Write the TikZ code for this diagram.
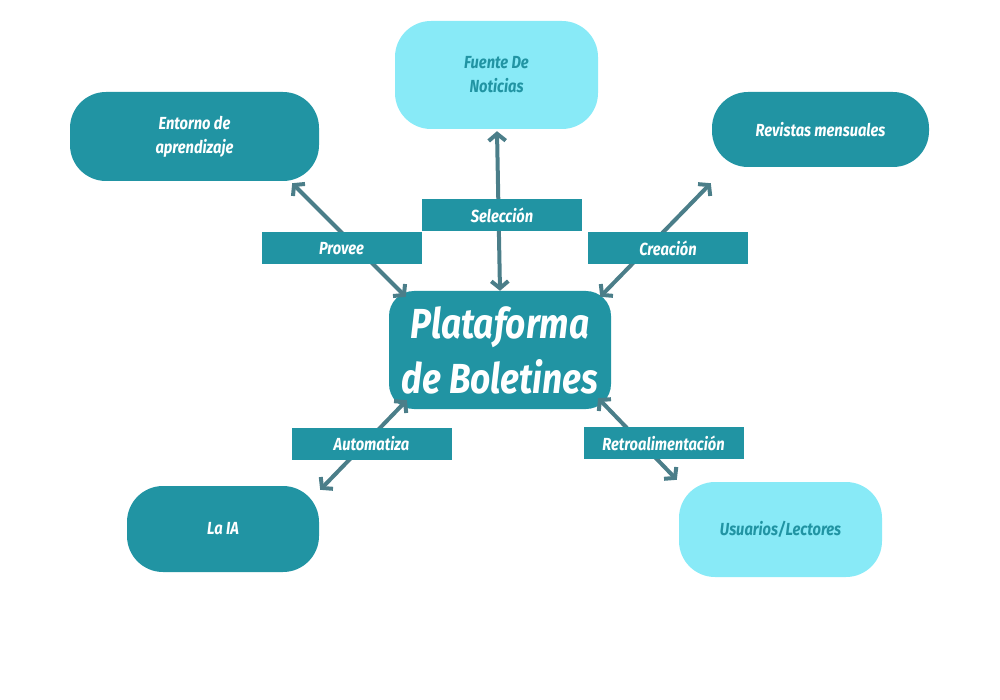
\documentclass[tikz,border=0pt]{standalone}
\usepackage{fontspec}
\setmainfont{Fira Sans}[FakeStretch=0.84]
\usetikzlibrary{arrows.meta,calc}
\definecolor{tealbox}{HTML}{2194A3}
\definecolor{skybox}{HTML}{88EAF7}
\definecolor{linkgray}{HTML}{4B7E89}
\newcommand{\lbl}{\fontsize{17.5}{24}\selectfont\bfseries\itshape}

\begin{document}
\begin{tikzpicture}[x=1pt,y=-1pt,
  dark/.style={rounded corners=36pt,fill=tealbox,text=white,align=center,inner sep=0pt,font=\lbl},
  light/.style={dark,fill=skybox,text=tealbox},
  tag/.style={fill=tealbox,text=white,inner sep=0pt,minimum width=160pt,minimum height=32pt,font=\lbl},
  link/.style={draw=linkgray,line width=4pt,{Straight Barb[length=7pt,width=17pt]}-{Straight Barb[length=7pt,width=17pt]}}]
  \useasboundingbox (0,0) rectangle (1000,700);
  % outer boxes
  \node[dark,minimum width=249pt,minimum height=89pt] (env) at (194.5,136.5) {Entorno de\\aprendizaje};
  \node[light,minimum width=203pt,minimum height=108pt] (news) at (496.5,75) {Fuente De\\Noticias};
  \node[dark,minimum width=217pt,minimum height=75pt] (mag) at (820.5,129.5) {Revistas mensuales};
  \node[dark,minimum width=192pt,minimum height=86pt] (ai) at (223,529) {La IA};
  \node[light,minimum width=203pt,minimum height=95pt] (users) at (780.5,529.5) {Usuarios/Lectores};
  % hub
  \node[dark,rounded corners=25pt,minimum width=222pt,minimum height=118pt,
        font=\fontsize{42}{55}\selectfont\bfseries\itshape] (hub) at (500,350) {Plataforma\\de Boletines};
  % links
  \draw[link] ($(hub.north west)+(17,6)$) -- ($(env.south east)+(-27,2)$);
  \draw[link] (hub.north) -- ($(news.south)+(0.5,2)$);
  \draw[link] ($(hub.north east)+(-11,6)$) -- ($(mag.south west)+(-1,16)$);
  \draw[link] ($(hub.south west)+(18,-9)$) -- ($(ai.north east)+(1,4)$);
  \draw[link] ($(hub.south east)+(-13,-11)$) -- ($(users.north west)+(-2,-2)$);
  % link labels
  \node[tag] (sel) at (502,215.5) {Selección};
  \node[tag] (prov) at (341.5,248.5) {Provee};
  \node[tag] (crea) at (668,248.5) {Creación};
  \node[tag] (auto) at (371.5,443.5) {Automatiza};
  \node[tag] (retro) at (663.5,443) {Retroalimentación};
\end{tikzpicture}
\end{document}
